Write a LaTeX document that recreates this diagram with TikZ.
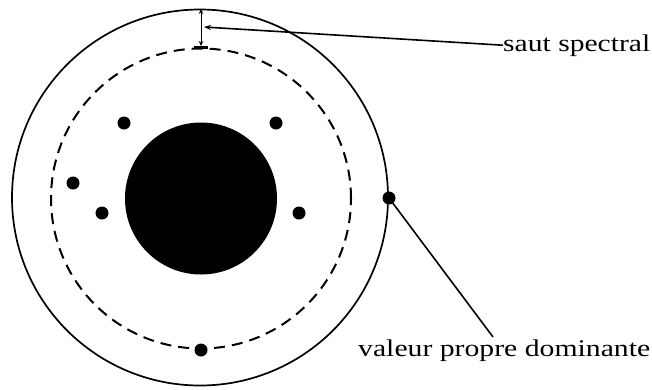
\documentclass[tikz,border=0pt]{standalone}
\usepackage{fontspec}
\usepackage{graphicx}
\newfontfamily\labfont{Liberation Serif}
\newcommand\fitlab[2]{\resizebox{#1}{\height}{#2}}
\usetikzlibrary{arrows.meta}
\begin{document}
\begin{tikzpicture}[x=1pt,y=1pt,
  dot/.style={circle,fill=black,inner sep=0pt,minimum size=13pt},
  lab/.style={inner sep=0pt,font=\labfont\fontsize{24}{28}\selectfont},
  lead/.style={line width=1.6pt},
  tip/.style={-{Stealth[length=7pt,width=5pt]}}]
\useasboundingbox (0,0) rectangle (652,-389);
% outer circle (spectral radius)
\draw[line width=1.7pt] (200,-197.5) circle[radius=188];
% dashed circle
\draw[line width=2pt,dash pattern=on 11pt off 7pt] (201,-198.5) circle[radius=150];
% central disc
\fill (201,-198.5) circle[radius=76];
% small eigenvalues
\node[dot] (e1) at (124,-123) {};
\node[dot] (e2) at (276,-123) {};
\node[dot] (e3) at (73,-183) {};
\node[dot] (e4) at (102,-213) {};
\node[dot] (e5) at (299,-213) {};
\node[dot] (e6) at (201,-350) {};
\node[dot] (dom) at (389,-198) {};
% spectral gap
\coordinate (gtop) at (201,-9);
\coordinate (gbot) at (201,-46);
\draw[line width=1pt,{Stealth[length=5pt,width=4.5pt]}-{Stealth[length=5pt,width=4.5pt]}] (gtop) -- (gbot);
\draw[line width=2.2pt] (194,-47.5) -- (208,-47.5);
\coordinate (gmid) at (204,-27);
% labels
\node[lab,anchor=base west] (saut) at (503,-51) {\fitlab{147pt}{saut spectral}};
\node[lab,anchor=base west] (valp) at (358,-356) {\fitlab{292pt}{valeur propre dominante}};
\draw[lead,tip] (saut.west) -- (gmid);
\coordinate (vend) at (493,-337);
\draw[lead] (vend) -- (dom.center);
\end{tikzpicture}
\end{document}
